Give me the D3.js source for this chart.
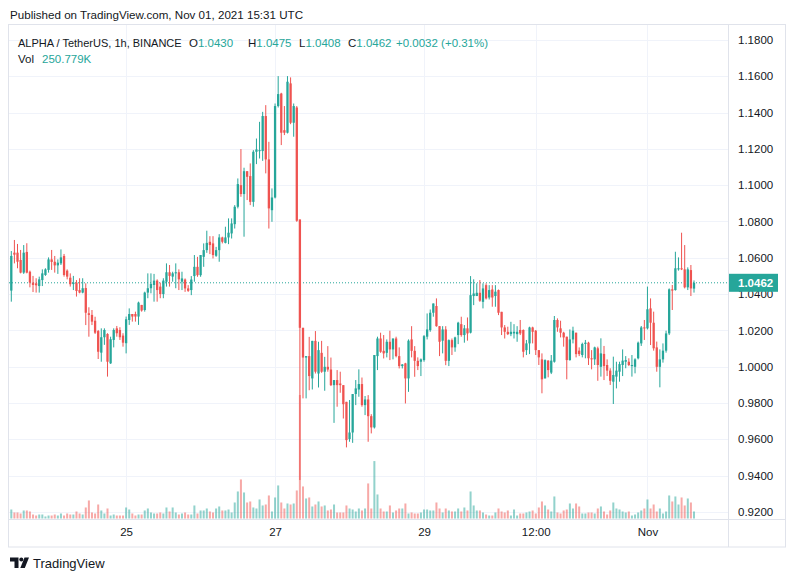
<!DOCTYPE html>
<html><head><meta charset="utf-8">
<script src="https://cdn.jsdelivr.net/npm/d3@7"></script>
<style>body{margin:0;background:#fff;} svg{display:block;font-family:"Liberation Sans",Arial,sans-serif;}</style>
</head><body><svg id="c" width="793" height="582"></svg>
<script>
// ---- data (ALPHA/USDT 1h, Binance) ----
const startTimeUTC = Date.UTC(2021, 9, 23, 11); // first candle: Oct 23 11:00 UTC, hourly
const opens = [1.0419,1.0628,1.0628,1.0588,1.0518,1.0632,1.0523,1.0463,1.0459,1.0444,1.0477,1.0505,1.0533,1.0591,1.0578,1.0558,1.0569,1.0610,1.0529,1.0490,1.0455,1.0463,1.0422,1.0408,1.0433,1.0294,1.0285,1.0253,1.0196,1.0077,1.0162,1.0180,1.0018,1.0147,1.0211,1.0202,1.0171,1.0129,1.0257,1.0290,1.0290,1.0276,1.0340,1.0312,1.0408,1.0432,1.0450,1.0474,1.0441,1.0400,1.0468,1.0520,1.0496,1.0514,1.0520,1.0468,1.0480,1.0431,1.0422,1.0499,1.0550,1.0504,1.0605,1.0642,1.0688,1.0679,1.0611,1.0642,1.0712,1.0682,1.0712,1.0734,1.0785,1.0881,1.1000,1.0951,1.1077,1.1050,1.0908,1.1184,1.1188,1.1188,1.1381,1.1142,1.0862,1.0932,1.1436,1.1505,1.1303,1.1289,1.1561,1.1344,1.1428,1.0811,1.0214,1.0050,1.0058,0.9935,1.0142,0.9962,1.0076,0.9972,0.9999,0.9984,0.9898,0.9926,0.9907,0.9898,0.9806,0.9601,0.9637,0.9849,0.9874,0.9904,0.9788,0.9819,0.9727,0.9665,1.0058,1.0155,1.0087,1.0076,1.0137,1.0095,1.0155,1.0058,1.0003,1.0018,0.9935,1.0150,1.0087,1.0032,1.0027,1.0036,1.0165,1.0201,1.0297,1.0334,1.0223,1.0143,1.0205,1.0032,1.0146,1.0106,1.0174,1.0234,1.0174,1.0211,1.0187,1.0389,1.0389,1.0407,1.0357,1.0449,1.0381,1.0425,1.0389,1.0422,1.0302,1.0216,1.0192,1.0179,1.0183,1.0179,1.0202,1.0202,1.0091,1.0128,1.0216,1.0198,1.0091,1.0040,0.9935,1.0033,0.9967,1.0027,1.0257,1.0211,1.0187,1.0165,1.0036,1.0150,1.0187,1.0088,1.0064,1.0125,1.0132,1.0046,1.0040,1.0101,0.9999,1.0070,1.0009,0.9978,0.9917,0.9945,0.9972,1.0009,1.0027,1.0027,1.0003,0.9999,1.0046,1.0128,1.0216,1.0211,1.0321,1.0242,1.0106,0.9999,1.0040,1.0088,1.0183,1.0426,1.0422,1.0536,1.0542,1.0536,1.0437,1.0532,1.0430];
const highs = [1.0637,1.0698,1.0676,1.0643,1.0670,1.0680,1.0529,1.0500,1.0487,1.0496,1.0536,1.0542,1.0602,1.0643,1.0610,1.0591,1.0646,1.0621,1.0536,1.0514,1.0500,1.0477,1.0487,1.0487,1.0459,1.0327,1.0312,1.0275,1.0202,1.0211,1.0211,1.0184,1.0165,1.0211,1.0224,1.0217,1.0184,1.0276,1.0321,1.0290,1.0303,1.0358,1.0340,1.0413,1.0514,1.0514,1.0511,1.0481,1.0463,1.0487,1.0569,1.0560,1.0523,1.0569,1.0536,1.0523,1.0486,1.0449,1.0499,1.0615,1.0605,1.0615,1.0679,1.0749,1.0719,1.0719,1.0660,1.0730,1.0716,1.0771,1.0817,1.0817,1.0890,1.1037,1.1199,1.1096,1.1077,1.1120,1.1193,1.1257,1.1349,1.1404,1.1441,1.1239,1.0982,1.1450,1.1601,1.1509,1.1436,1.1601,1.1594,1.1450,1.1436,1.0811,1.0214,1.0058,1.0164,1.0142,1.0196,1.0137,1.0142,1.0054,1.0113,1.0050,0.9926,0.9981,0.9972,0.9898,0.9806,0.9816,0.9849,0.9926,0.9985,0.9940,0.9838,0.9843,0.9738,1.0064,1.0165,1.0187,1.0174,1.0150,1.0198,1.0155,1.0165,1.0106,1.0014,1.0021,1.0150,1.0223,1.0113,1.0051,1.0045,1.0174,1.0293,1.0315,1.0348,1.0376,1.0223,1.0223,1.0223,1.0150,1.0155,1.0165,1.0247,1.0275,1.0229,1.0271,1.0499,1.0481,1.0459,1.0477,1.0459,1.0459,1.0449,1.0449,1.0449,1.0425,1.0302,1.0229,1.0220,1.0247,1.0234,1.0223,1.0257,1.0205,1.0147,1.0220,1.0220,1.0202,1.0091,1.0073,1.0040,1.0036,1.0064,1.0279,1.0266,1.0253,1.0192,1.0165,1.0205,1.0220,1.0187,1.0106,1.0132,1.0147,1.0137,1.0091,1.0110,1.0110,1.0156,1.0114,1.0040,0.9991,1.0055,1.0027,1.0027,1.0095,1.0058,1.0046,1.0064,1.0046,1.0138,1.0224,1.0257,1.0441,1.0376,1.0303,1.0138,1.0095,1.0128,1.0198,1.0431,1.0450,1.0633,1.0602,1.0738,1.0670,1.0547,1.0560,1.0475];
const lows = [1.0358,1.0569,1.0542,1.0514,1.0511,1.0514,1.0437,1.0411,1.0408,1.0408,1.0444,1.0500,1.0518,1.0533,1.0518,1.0511,1.0560,1.0496,1.0481,1.0441,1.0422,1.0386,1.0404,1.0404,1.0229,1.0165,1.0229,1.0180,1.0042,1.0027,1.0120,0.9945,1.0015,1.0106,1.0165,1.0147,1.0110,1.0073,1.0230,1.0248,1.0248,1.0230,1.0303,1.0303,1.0377,1.0404,1.0358,1.0358,1.0377,1.0377,1.0441,1.0441,1.0468,1.0432,1.0422,1.0422,1.0412,1.0412,1.0394,1.0468,1.0495,1.0495,1.0550,1.0627,1.0620,1.0596,1.0605,1.0578,1.0679,1.0679,1.0675,1.0706,1.0761,1.0872,1.0936,1.0716,1.0918,1.0890,1.0881,1.1116,1.1147,1.1134,1.1065,1.0761,1.0798,1.0927,1.1428,1.1221,1.1276,1.1285,1.1336,1.1267,1.0798,0.9375,0.9825,0.9825,0.9870,0.9874,0.9962,0.9885,0.9966,0.9867,0.9972,0.9893,0.9690,0.9779,0.9856,0.9714,0.9555,0.9586,0.9580,0.9788,0.9834,0.9779,0.9733,0.9586,0.9632,0.9659,0.9981,1.0076,1.0045,1.0051,1.0036,1.0040,1.0051,0.9990,0.9990,0.9797,0.9861,1.0051,0.9944,0.9981,0.9948,1.0027,1.0150,1.0192,1.0275,1.0220,1.0058,1.0073,1.0008,1.0003,1.0064,1.0082,1.0124,1.0165,1.0132,1.0143,1.0183,1.0339,1.0389,1.0357,1.0321,1.0370,1.0370,1.0330,1.0330,1.0284,1.0174,1.0155,1.0174,1.0168,1.0155,1.0137,1.0174,1.0051,1.0064,1.0069,1.0128,1.0064,1.0009,0.9853,0.9935,0.9941,0.9959,1.0022,1.0192,1.0161,1.0110,0.9930,1.0033,1.0128,1.0051,1.0058,1.0051,1.0046,1.0009,0.9985,1.0009,0.9922,0.9945,0.9926,0.9948,0.9899,0.9794,0.9880,0.9917,0.9948,0.9991,1.0003,0.9945,0.9963,1.0040,1.0114,1.0147,1.0205,1.0119,1.0088,0.9972,0.9886,1.0022,1.0077,1.0174,1.0312,1.0419,1.0529,1.0532,1.0431,1.0422,1.0389,1.0408];
const closes = [1.0610,1.0617,1.0578,1.0518,1.0628,1.0518,1.0463,1.0450,1.0448,1.0481,1.0514,1.0536,1.0591,1.0577,1.0558,1.0573,1.0602,1.0505,1.0496,1.0454,1.0463,1.0417,1.0408,1.0432,1.0297,1.0285,1.0248,1.0187,1.0082,1.0162,1.0202,1.0027,1.0151,1.0202,1.0184,1.0162,1.0132,1.0261,1.0290,1.0276,1.0276,1.0353,1.0309,1.0408,1.0432,1.0456,1.0474,1.0422,1.0400,1.0474,1.0520,1.0500,1.0514,1.0520,1.0481,1.0486,1.0431,1.0418,1.0480,1.0550,1.0504,1.0615,1.0642,1.0682,1.0670,1.0615,1.0642,1.0712,1.0688,1.0712,1.0738,1.0789,1.0881,1.1006,1.0951,1.1077,1.1046,1.0908,1.1184,1.1197,1.1193,1.1381,1.1142,1.0872,1.0932,1.1436,1.1502,1.1289,1.1289,1.1570,1.1344,1.1436,1.0804,1.0214,1.0050,1.0058,0.9948,1.0142,0.9972,1.0091,0.9972,0.9999,0.9984,0.9898,0.9926,0.9898,0.9898,0.9793,0.9595,0.9637,0.9849,0.9880,0.9904,0.9788,0.9819,0.9727,0.9665,1.0064,1.0155,1.0082,1.0073,1.0137,1.0095,1.0155,1.0058,1.0003,1.0012,0.9935,1.0143,1.0087,1.0032,1.0003,1.0040,1.0168,1.0205,1.0297,1.0348,1.0223,1.0137,1.0205,1.0032,1.0146,1.0106,1.0161,1.0242,1.0174,1.0211,1.0183,1.0394,1.0403,1.0407,1.0363,1.0431,1.0376,1.0422,1.0381,1.0413,1.0297,1.0216,1.0192,1.0179,1.0192,1.0192,1.0192,1.0183,1.0082,1.0128,1.0216,1.0192,1.0091,1.0051,0.9930,1.0036,0.9981,1.0033,1.0257,1.0216,1.0187,1.0161,1.0036,1.0150,1.0198,1.0069,1.0069,1.0125,1.0132,1.0046,1.0040,1.0106,1.0009,1.0073,1.0003,0.9978,0.9922,0.9954,0.9978,1.0014,1.0033,1.0036,1.0009,1.0009,1.0040,1.0132,1.0216,1.0211,1.0316,1.0242,1.0101,0.9999,1.0040,1.0088,1.0183,1.0426,1.0419,1.0542,1.0542,1.0536,1.0437,1.0536,1.0431,1.0462];
// volume in thousands of ALPHA
const volumes = [322,215,215,179,287,287,251,143,107,143,143,72,107,107,143,107,179,107,179,143,143,251,179,143,394,645,215,179,501,287,179,358,107,143,107,107,107,394,322,179,107,143,143,287,358,215,179,179,215,179,394,251,394,215,143,179,215,143,143,466,179,287,287,358,251,215,358,430,287,287,322,215,573,967,1397,931,573,609,394,358,681,466,501,824,251,752,1182,573,358,537,501,537,1003,4418,1146,716,752,430,501,609,430,466,287,322,501,215,215,215,466,358,322,251,358,287,358,1254,358,2054,860,358,251,251,466,215,287,358,358,537,179,215,179,179,215,322,322,287,287,573,358,215,358,287,251,251,358,251,394,287,967,466,287,287,215,143,107,107,215,358,251,215,287,107,322,107,179,179,215,251,287,179,394,609,466,322,251,788,215,179,287,322,537,358,537,430,179,179,215,215,179,358,430,251,143,287,573,358,322,251,215,251,107,143,215,287,358,681,358,501,251,358,179,251,824,609,788,501,752,466,716,573,250.779];
const priceTicks = [0.92,0.94,0.96,0.98,1.00,1.02,1.04,1.06,1.08,1.10,1.12,1.14,1.16,1.18];
const timeTicks = [Date.UTC(2021,9,25), Date.UTC(2021,9,27), Date.UTC(2021,9,29), Date.UTC(2021,9,30,12), Date.UTC(2021,10,1)];
const timeTickLabels = ["25","27","29","12:00","Nov"];
const lastBar = {o:"1.0430", h:"1.0475", l:"1.0408", c:"1.0462", chg:"+0.0032 (+0.31%)", vol:"250.779K"};

const times = closes.map((d,i)=> new Date(startTimeUTC + i*3600e3));
const candles = times.map((t,i)=>({t, o:opens[i], h:highs[i], l:lows[i], c:closes[i], v:volumes[i]}));

// ---- layout ----
const UP="#26a69a", DOWN="#ef5350", TXT="#131722", GRID="#f0f3fa", BORDER="#e0e3eb";
const L=9, R=728, T=25, PB=519, AB=547;
const svg = d3.select("#c");
const x = d3.scaleUtc().domain([times[0], times[times.length-1]]).range([11.3, 694]);
const y = d3.scaleLinear().domain([0.92,1.18]).range([511.8,40]);
const vy = d3.scaleLinear().domain([0, d3.max(volumes)]).range([518.5, 395]);

svg.append("rect").attr("width",793).attr("height",582).attr("fill","#fff");
svg.append("text").attr("x",10).attr("y",19).attr("font-size",11.6).attr("fill",TXT)
  .text("Published on TradingView.com, Nov 01, 2021 15:31 UTC");

// grid
const g = svg.append("g");
g.selectAll(".hg").data(priceTicks).join("line")
  .attr("x1",L).attr("x2",R).attr("y1",d=>Math.round(y(d))+0.5).attr("y2",d=>Math.round(y(d))+0.5)
  .attr("stroke",GRID).attr("stroke-width",1);
g.selectAll(".vg").data(timeTicks).join("line")
  .attr("x1",d=>Math.round(x(d))+0.5).attr("x2",d=>Math.round(x(d))+0.5).attr("y1",T).attr("y2",PB)
  .attr("stroke",GRID).attr("stroke-width",1);

svg.append("clipPath").attr("id","clip").append("rect").attr("x",L).attr("y",T).attr("width",R-L).attr("height",PB-T);
const plot = svg.append("g").attr("clip-path","url(#clip)");

// volume
plot.selectAll(".vol").data(candles).join("rect")
  .attr("x",d=>x(d.t)-1).attr("width",2)
  .attr("y",d=>vy(d.v)).attr("height",d=>vy(0)-vy(d.v))
  .attr("fill",d=>d.c>=d.o?"rgba(38,166,154,0.5)":"rgba(239,83,80,0.5)");

// last price dotted line
plot.append("line").attr("x1",L).attr("x2",R).attr("y1",y(1.0462)).attr("y2",y(1.0462))
  .attr("stroke",UP).attr("stroke-width",1).attr("stroke-dasharray","1,2");

// candles
const cg = plot.selectAll(".cd").data(candles).join("g");
cg.append("line").attr("x1",d=>x(d.t)).attr("x2",d=>x(d.t))
  .attr("y1",d=>y(d.h)).attr("y2",d=>y(d.l))
  .attr("stroke",d=>d.c>=d.o?UP:DOWN).attr("stroke-width",1);
cg.append("rect").attr("x",d=>x(d.t)-1.15).attr("width",2.3)
  .attr("y",d=>y(Math.max(d.o,d.c))).attr("height",d=>Math.max(1,Math.abs(y(d.o)-y(d.c))))
  .attr("fill",d=>d.c>=d.o?UP:DOWN);

// frame
svg.append("rect").attr("x",8.5).attr("y",24.5).attr("width",777).attr("height",AB-24.5)
  .attr("fill","none").attr("stroke",BORDER);
svg.append("line").attr("x1",R+0.5).attr("x2",R+0.5).attr("y1",T).attr("y2",AB).attr("stroke",BORDER);
svg.append("line").attr("x1",L).attr("x2",786).attr("y1",PB+0.5).attr("y2",PB+0.5).attr("stroke",BORDER);

// price axis
const ya = svg.append("g").attr("transform",`translate(${R},0)`)
  .call(d3.axisRight(y).tickValues(priceTicks).tickFormat(d3.format(".4f")).tickSize(0).tickPadding(10));
ya.select(".domain").remove();
ya.selectAll("text").attr("font-size",11.5).attr("fill",TXT).attr("font-family","Liberation Sans, Arial, sans-serif");

// time axis
const xa = svg.append("g").attr("transform",`translate(0,${PB})`)
  .call(d3.axisBottom(x).tickValues(timeTicks.map(d=>new Date(d))).tickFormat((d,i)=>timeTickLabels[i]).tickSize(0).tickPadding(9));
xa.select(".domain").remove();
xa.selectAll("text").attr("font-size",11.5).attr("fill",TXT).attr("font-family","Liberation Sans, Arial, sans-serif");

// last price label
const ly = y(1.0462);
svg.append("rect").attr("x",R+1).attr("y",ly-9).attr("width",49).attr("height",18).attr("fill",UP);
svg.append("text").attr("x",R+10).attr("y",ly+4).attr("font-size",11.5).attr("font-weight","bold").attr("fill","#fff").text(lastBar.c);

// legend
const lg = svg.append("g").attr("font-size",11.5);
lg.append("text").attr("x",18).attr("y",46.5).attr("fill",TXT).attr("font-size",11)
  .text("ALPHA / TetherUS, 1h, BINANCE");
const parts = [["O",lastBar.o,189],["H",lastBar.h,248],["L",lastBar.l,299],["C",lastBar.c,348]];
parts.forEach(p=>{
  const t = lg.append("text").attr("x",p[2]).attr("y",46.5).attr("fill",TXT);
  t.append("tspan").text(p[0]);
  t.append("tspan").attr("fill",UP).text(p[1]);
});
lg.append("text").attr("x",396).attr("y",46.5).attr("fill",UP).text(lastBar.chg);
const vt = lg.append("text").attr("x",18).attr("y",63).attr("fill",TXT);
vt.append("tspan").text("Vol");
vt.append("tspan").attr("x",42).attr("fill",UP).text(lastBar.vol);

// logo
const logo = svg.append("g").attr("fill",TXT);
logo.append("path").attr("d","M10 557.5 H18.5 V568 H14.5 V561.5 H10 Z");
logo.append("circle").attr("cx",21.3).attr("cy",559.5).attr("r",2);
logo.append("path").attr("d","M24.5 557.5 H29 L24.8 568 H20.3 Z");
svg.append("text").attr("x",33).attr("y",568).attr("font-size",13).attr("fill",TXT).text("TradingView");
</script></body></html>
